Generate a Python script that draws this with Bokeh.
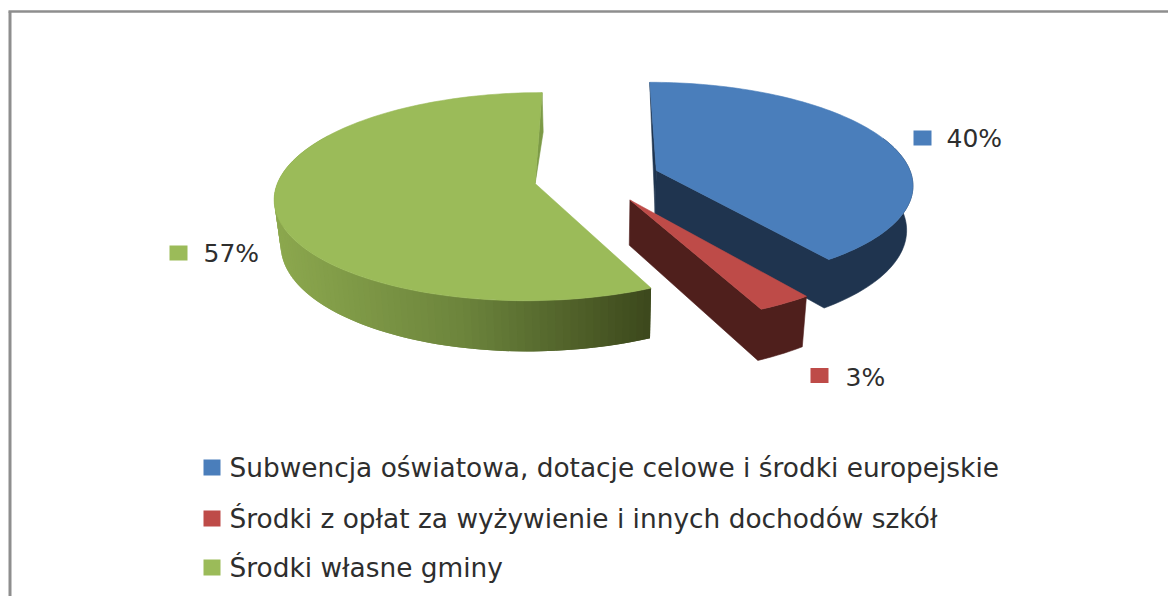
import math
from bokeh.plotting import figure
from bokeh.models import Range1d
from bokeh.core.properties import value
from bokeh.embed import file_html
from bokeh.resources import INLINE

categories = ["Subwencja oświatowa, dotacje celowe i środki europejskie",
              "Środki z opłat za wyżywienie i innych dochodów szkół",
              "Środki własne gminy"]
shares = [40, 3, 57]
top_colors = ["#4a7ebb", "#be4b48", "#9bbb59"]
side_colors = ["#1f344f", "#4f1f1c", None]
label_squares = [(922, 137.5), (819, 375), (178, 252.5)]
label_text = [(946, 138), (845, 377), (203, 253)]
legend_y = [467, 518, 567]

FONT = "DejaVu Sans"
TEXT = "#2e2e2e"
CX, CY, RX, RY, PERSP, EXPLODE, DEPTH, SHRINK = 596.5, 177.5, 256, 101, 0.126, 0.246, 44, 0.98

p = figure(width=1168, height=596, output_backend="svg", toolbar_location=None,
           x_range=Range1d(0, 1168), y_range=Range1d(596, 0), min_border=0)
p.axis.visible = False
p.grid.visible = False
p.outline_line_color = None
p.background_fill_color = "white"
p.border_fill_color = "white"


def top_pt(x0, z0, theta=None):
    X, Z = x0, z0
    if theta is not None:
        X += math.sin(theta)
        Z -= math.cos(theta)
    s = 1 / (1 - PERSP * Z)
    return CX + RX * X * s, CY + RY * Z * s, s


def bottom_pt(x0, z0, theta=None):
    x, y, s = top_pt(x0, z0, theta)
    return CX + (x - CX) * SHRINK, y + DEPTH * s


def poly(pts, color, edge=True):
    p.patch([q[0] for q in pts], [q[1] for q in pts], fill_color=color,
            line_color=color if edge else None, line_width=0.6)


def mix(t):
    stops = [(0.0, (140, 168, 78)), (0.5, (108, 132, 60)), (1.0, (60, 72, 28))]
    for (a, ca), (b, cb) in zip(stops, stops[1:]):
        if t <= b:
            f = (t - a) / (b - a)
            return "#%02x%02x%02x" % tuple(int(round(u + (v - u) * f)) for u, v in zip(ca, cb))
    return "#3c481c"


total = sum(shares)
acc = 0.0
slices = []
for share in shares:
    a0 = acc / total * 2 * math.pi
    acc += share
    a1 = acc / total * 2 * math.pi
    mid = (a0 + a1) / 2
    slices.append((a0, a1, EXPLODE * math.sin(mid), -EXPLODE * math.cos(mid)))

for i, (a0, a1, x0, z0) in enumerate(slices):
    n = max(6, int(math.degrees(a1 - a0) / 1.5))
    thetas = [a0 + (a1 - a0) * k / n for k in range(n + 1)]
    tops = [top_pt(x0, z0, t)[:2] for t in thetas]
    apex = top_pt(x0, z0)[:2]
    apex_b = bottom_pt(x0, z0)
    if i < 2:
        front = [t for t in thetas if t > math.radians(70)]
        ft = [top_pt(x0, z0, t)[:2] for t in front]
        fb = [bottom_pt(x0, z0, t) for t in front]
        if i == 0:
            poly([tops[0], apex_b, apex], side_colors[0])
        poly([apex] + ft[::-1] + fb + [apex_b], side_colors[i])
    else:
        poly([tops[-1], bottom_pt(x0, z0, thetas[-1]), apex], "#7c9a46")
        front = [t for t in thetas if t < math.radians(300)]
        ft = [top_pt(x0, z0, t)[:2] for t in front]
        fb = [bottom_pt(x0, z0, t) for t in front]
        xl = min(q[0] for q in ft)
        xr = max(q[0] for q in ft)
        m = len(front)
        # drawn from the left end of the arc to the right, each band overlapping the next
        for k in range(m - 2, -1, -1):
            t = ((ft[k][0] + ft[k + 1][0]) / 2 - xl) / (xr - xl)
            e = max(k - 1, 0)
            poly([ft[k + 1], ft[e], fb[e], fb[k + 1]], mix(t), edge=False)
    poly([apex] + tops, top_colors[i])

for (sx, sy), col in zip(label_squares, top_colors):
    p.rect([sx], [sy], width=18, height=15, fill_color=col, line_color=None)
for (tx, ty), sh in zip(label_text, shares):
    p.text([tx], [ty], text=[f"{sh}%"], text_font=value(FONT), text_font_size="25px",
           text_color=TEXT, text_baseline="middle", text_align="left")
for y, cat, col in zip(legend_y, categories, top_colors):
    p.rect([211.5], [y], width=17, height=16, fill_color=col, line_color=None)
    p.text([229], [y], text=[cat], text_font=value(FONT), text_font_size="26.4px",
           text_color=TEXT, text_baseline="middle", text_align="left")

p.segment([9.5], [11], [9.5], [596], line_color="#8e8e8e", line_width=3)
p.segment([8], [11], [1168], [11], line_color="#8e8e8e", line_width=2.5)

open("out.html", "w").write(file_html(p, INLINE))
